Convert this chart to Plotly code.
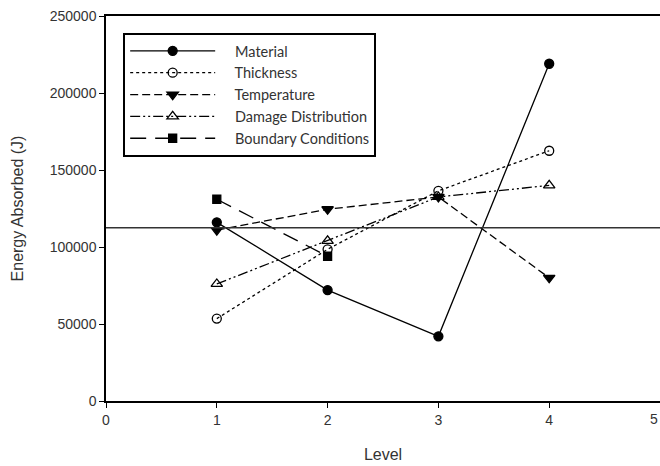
import plotly.graph_objects as go

# Factor levels tested for each parameter
levels = [1, 2, 3, 4]
levels_bc = [1, 2]

# Mean energy absorbed (J) at each level
material = [116000, 72000, 42000, 219000]
thickness = [53500, 98500, 136500, 162500]
temperature = [111000, 124500, 132500, 80000]
damage_distribution = [76000, 104000, 132500, 140000]
boundary_conditions = [131000, 94000]

# Grand mean across all runs
grand_mean = 112500

y_ticks = [0, 50000, 100000, 150000, 200000, 250000]
x_ticks = [0, 1, 2, 3, 4, 5]

series = [
    ("Material", levels, material, "solid", "circle", 9),
    ("Thickness", levels, thickness, "dot", "circle-open", 9),
    ("Temperature", levels, temperature, "8px,4px", "triangle-down", 10),
    ("Damage Distribution", levels, damage_distribution,
     "10px,3px,2px,3px,2px,3px", "triangle-up-open", 10),
    ("Boundary Conditions", levels_bc, boundary_conditions, "16px,9px", "square", 8),
]

PAD = "\u00a0" * 4

fig = go.Figure()
for name, xs, ys, dash, symbol, size in series:
    fig.add_trace(go.Scatter(
        x=xs, y=ys, name=PAD + name, mode="lines+markers",
        line=dict(color="black", width=1.3, dash=dash),
        marker=dict(symbol=symbol, size=size, color="black",
                    line=dict(color="black", width=1.3)),
        cliponaxis=False,
    ))

fig.add_shape(type="line", xref="paper", x0=0, x1=1, yref="y",
              y0=grand_mean, y1=grand_mean,
              line=dict(color="#333333", width=1.3))

sans = "Arial, Liberation Sans, sans-serif"
axis_font = dict(family=sans, size=14, color="#333333")

# last x tick label sits against the right edge of the page
fig.add_annotation(text=str(x_ticks[-1]), xref="paper", x=1.0, yref="paper",
                   y=0, yshift=-8, yanchor="top", xanchor="right",
                   showarrow=False, font=axis_font)

fig.update_layout(
    width=660, height=466,
    margin=dict(l=106, r=0, t=16, b=65),
    paper_bgcolor="white", plot_bgcolor="white",
    font=axis_font,
    xaxis=dict(
        range=[0, 5], tickvals=x_ticks[:-1], ticktext=[str(v) for v in x_ticks[:-1]],
        showgrid=False, zeroline=False,
        showline=True, linecolor="black", linewidth=1.5, mirror=True,
        ticks="outside", ticklen=5, tickcolor="black", tickwidth=1.2,
        tickfont=axis_font,
        title=dict(text="Level", font=dict(family=sans, size=16, color="#333333"), standoff=22),
    ),
    yaxis=dict(
        range=[0, 250000], tickvals=y_ticks, tickformat="d",
        showgrid=False, zeroline=False,
        showline=True, linecolor="black", linewidth=1.5,
        ticks="outside", ticklen=5, tickcolor="black", tickwidth=1.2,
        tickfont=axis_font,
        title=dict(text="Energy Absorbed (J)", font=dict(family=sans, size=16, color="#333333"), standoff=22),
    ),
    legend=dict(
        x=0.031, y=0.956, xanchor="left", yanchor="top",
        bgcolor="white", bordercolor="black", borderwidth=2,
        font=dict(family="Lato, Carlito, sans-serif", size=14.5, color="#333333"),
        itemwidth=85,
    ),
    showlegend=True,
)

fig.write_html("out.html")
